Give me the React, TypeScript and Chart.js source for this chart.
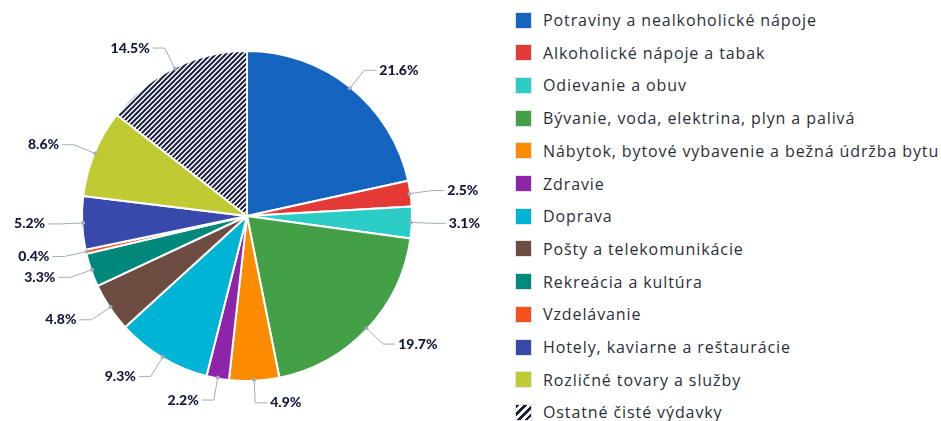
import { useEffect, useRef } from "react";
import { Chart, registerables } from "chart.js";
Chart.register(...registerables);

const categories = [
  "Potraviny a nealkoholické nápoje",
  "Alkoholické nápoje a tabak",
  "Odievanie a obuv",
  "Bývanie, voda, elektrina, plyn a palivá",
  "Nábytok, bytové vybavenie a bežná údržba bytu",
  "Zdravie",
  "Doprava",
  "Pošty a telekomunikácie",
  "Rekreácia a kultúra",
  "Vzdelávanie",
  "Hotely, kaviarne a reštaurácie",
  "Rozličné tovary a služby",
  "Ostatné čisté výdavky",
];
const values = [21.6, 2.5, 3.1, 19.7, 4.9, 2.2, 9.3, 4.8, 3.3, 0.4, 5.2, 8.6, 14.5];
const colors = [
  "#1565c0",
  "#e53935",
  "#2ccdc6",
  "#43a047",
  "#fb8c00",
  "#8e24aa",
  "#00b4d6",
  "#6d4c41",
  "#00897b",
  "#f4511e",
  "#3949ab",
  "#c0ca33",
  "hatch",
];
const NAVY = "#1b2040";

function makePattern(ctx: CanvasRenderingContext2D) {
  const s = 5;
  const c = document.createElement("canvas");
  c.width = s;
  c.height = s;
  const g = c.getContext("2d")!;
  g.fillStyle = "#ffffff";
  g.fillRect(0, 0, s, s);
  g.strokeStyle = NAVY;
  g.lineWidth = 2;
  g.beginPath();
  g.moveTo(-1, s + 1);
  g.lineTo(s + 1, -1);
  g.moveTo(-1, 1);
  g.lineTo(1, -1);
  g.moveTo(s - 1, s + 1);
  g.lineTo(s + 1, s - 1);
  g.stroke();
  return ctx.createPattern(c, "repeat")!;
}

const labelPlugin = {
  id: "outLabels",
  afterDraw(chart: any) {
    const ctx: CanvasRenderingContext2D = chart.ctx;
    const meta = chart.getDatasetMeta(0);
    ctx.save();
    meta.data.forEach((arc: any, i: number) => {
      const { startAngle, endAngle, x, y, outerRadius } = arc.getProps(
        ["startAngle", "endAngle", "x", "y", "outerRadius"],
        true
      );
      const mid = (startAngle + endAngle) / 2;
      const cos = Math.cos(mid);
      const sin = Math.sin(mid);
      const ax = x + cos * (outerRadius - 1);
      const ay = y + sin * (outerRadius - 1);
      const ex = x + cos * (outerRadius + 22);
      const ey = y + sin * (outerRadius + 22);
      const right = cos >= 0;
      const hx = ex + (right ? 12 : -12);
      ctx.strokeStyle = "#a3adb8";
      ctx.lineWidth = 1;
      ctx.beginPath();
      ctx.moveTo(ax, ay);
      ctx.lineTo(ex, ey);
      ctx.lineTo(hx, ey);
      ctx.stroke();
      ctx.fillStyle = "#a3adb8";
      ctx.beginPath();
      ctx.arc(ax, ay, 2, 0, Math.PI * 2);
      ctx.fill();
      ctx.fillStyle = "#14183a";
      ctx.font = "900 14px Lato";
      ctx.textBaseline = "middle";
      ctx.textAlign = right ? "left" : "right";
      ctx.fillText(values[i].toFixed(1) + "%", hx + (right ? 3 : -3), ey);
    });
    ctx.restore();
  },
};

export default function App() {
  const ref = useRef<HTMLCanvasElement>(null);
  useEffect(() => {
    document.body.style.margin = "0";
    const canvas = ref.current!;
    const ctx = canvas.getContext("2d")!;
    const pattern = makePattern(ctx);
    const bg = colors.map((c) => (c === "hatch" ? pattern : c));
    const chart = new Chart(canvas, {
      type: "pie",
      data: {
        labels: categories,
        datasets: [
          {
            data: values,
            backgroundColor: bg as any,
            borderColor: "#ffffff",
            borderWidth: 2,
          },
        ],
      },
      options: {
        animation: false,
        responsive: false,
        maintainAspectRatio: false,
        layout: { padding: { top: 50, bottom: 39, left: 40, right: 40 } },
        plugins: { legend: { display: false }, tooltip: { enabled: false } },
      },
      plugins: [labelPlugin],
    });
    return () => chart.destroy();
  }, []);

  return (
    <div style={{ position: "relative", width: 941, height: 421, background: "#fff", overflow: "hidden" }}>
      <canvas
        ref={ref}
        width={494}
        height={421}
        style={{ position: "absolute", left: 0, top: 0, width: 494, height: 421 }}
      />
      <div style={{ position: "absolute", left: 515, top: 0 }}>
        {categories.map((c, i) => (
          <div
            key={c}
            style={{
              position: "absolute",
              left: 0,
              top: 20 + i * 32.7 - 12,
              height: 24,
              display: "flex",
              alignItems: "center",
              whiteSpace: "nowrap",
            }}
          >
            <span
              style={{
                display: "inline-block",
                width: 15,
                height: 15,
                border: "1px solid #e2e4e8",
                background:
                  colors[i] === "hatch"
                    ? `repeating-linear-gradient(135deg, ${NAVY} 0 2.5px, #ffffff 2.5px 5.5px)`
                    : colors[i],
              }}
            />
            <span
              style={{
                marginLeft: 11,
                fontFamily: "'Open Sans'",
                fontSize: 16,
                lineHeight: "18px",
                letterSpacing: "0.9px",
                color: "#2b2f3a",
              }}
            >
              {c}
            </span>
          </div>
        ))}
      </div>
    </div>
  );
}
